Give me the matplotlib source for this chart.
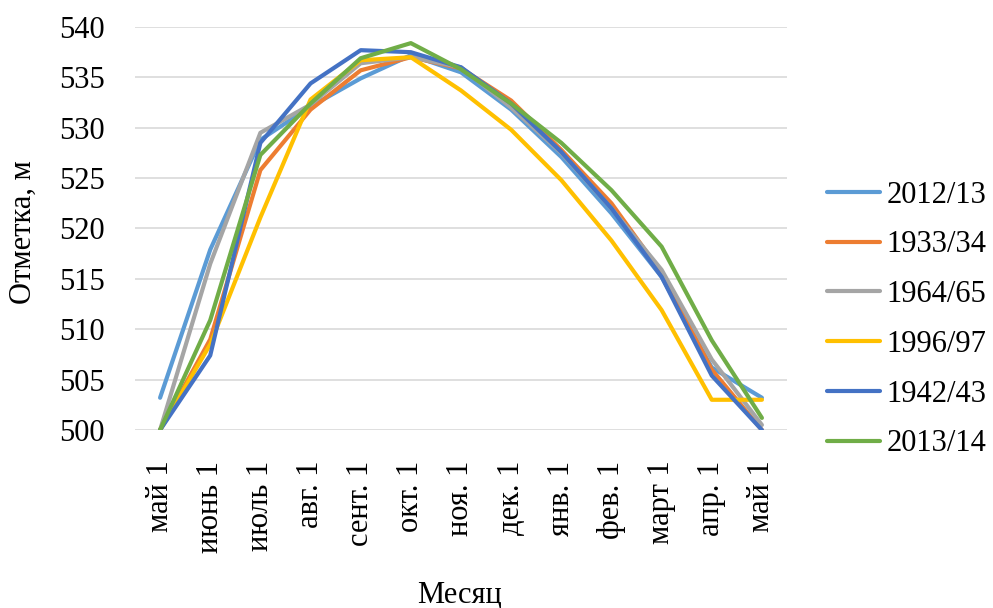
import matplotlib
matplotlib.use('Agg')
import matplotlib.pyplot as plt
import numpy as np

plt.rcParams['font.family'] = ['Liberation Serif', 'DejaVu Serif']
plt.rcParams['font.size'] = 22

months = ['май 1', 'июнь 1', 'июль 1', 'авг. 1', 'сент. 1', 'окт. 1', 'ноя. 1',
          'дек. 1', 'янв. 1', 'фев. 1', 'март 1', 'апр. 1', 'май 1']

y2012 = [503.2, 517.9, 528.8, 532.1, 534.9, 537.2, 535.5, 531.8, 527.1, 521.5, 515.2, 506.2, 503.2]
y1933 = [500.0, 509.0, 525.8, 531.8, 535.7, 537.0, 535.9, 532.7, 527.8, 522.5, 515.6, 506.0, 500.0]
y1964 = [500.0, 516.5, 529.5, 532.3, 536.4, 537.0, 536.0, 532.0, 527.5, 522.0, 515.9, 507.0, 500.5]
y1996 = [500.0, 508.5, 521.1, 532.8, 536.7, 537.0, 533.7, 529.8, 524.8, 518.8, 511.9, 503.0, 503.0]
y1942 = [500.0, 507.4, 528.5, 534.4, 537.7, 537.5, 536.0, 532.4, 527.6, 522.0, 515.2, 505.4, 500.0]
y2013 = [500.0, 510.9, 527.3, 532.4, 536.9, 538.4, 535.8, 532.4, 528.5, 523.8, 518.2, 508.9, 501.2]

series = [('2012/13', y2012, '#5B9BD5'),
          ('1933/34', y1933, '#ED7D31'),
          ('1964/65', y1964, '#A5A5A5'),
          ('1996/97', y1996, '#FFC000'),
          ('1942/43', y1942, '#4472C4'),
          ('2013/14', y2013, '#70AD47')]

fig = plt.figure(figsize=(9.93, 6.08), dpi=100)
ax = fig.add_axes([135/993, 1 - 430/608, 652/993, 403/608])

x = np.arange(len(months))
for name, vals, col in series:
    ax.plot(x, vals, color=col, lw=3.0, label=name,
            solid_capstyle='round', solid_joinstyle='round')

ax.set_xlim(-0.5, len(months) - 0.5)
ax.set_ylim(500, 540)
ax.set_yticks(np.arange(500, 541, 5))
ax.set_xticks(x)
ax.set_xticklabels(months, rotation=90)
ax.grid(axis='y', color='#D9D9D9', lw=1.2)
ax.set_axisbelow(True)
for s in ax.spines.values():
    s.set_visible(False)
ax.tick_params(axis='both', length=0)
ax.tick_params(axis='y', pad=22)
ax.tick_params(axis='x', pad=22)

ax.set_xlabel('Месяц')
ax.xaxis.set_label_coords(0.498, -0.41)
ax.xaxis.label.set_va('center')
ax.set_ylabel('Отметка, м')
ax.yaxis.set_label_coords(-0.172, 0.49)
ax.yaxis.label.set_va('center')

fig.legend(loc='center left', bbox_to_anchor=(827/993, 1 - 319.5/608),
           frameon=False, borderpad=0, borderaxespad=0,
           handlelength=1.75, handletextpad=0.2, labelspacing=0.68)

fig.savefig('out.png', dpi=100)
